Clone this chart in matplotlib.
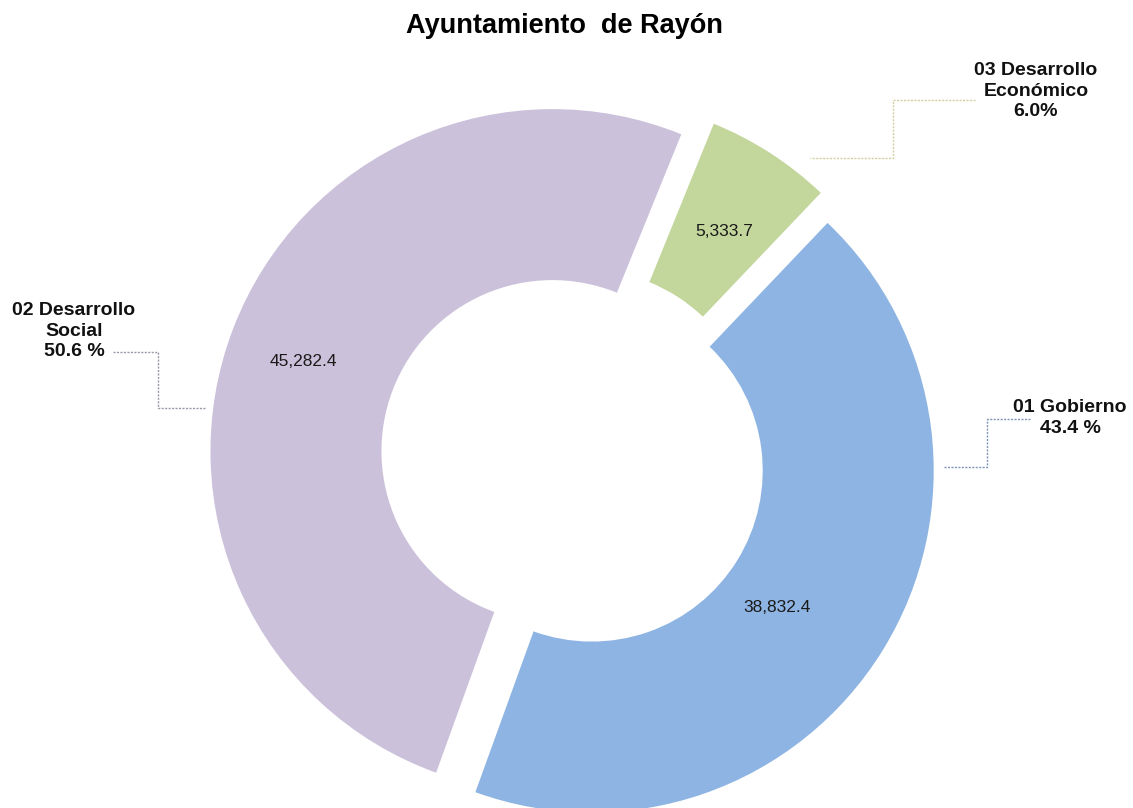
import matplotlib
matplotlib.use("Agg")
import matplotlib.pyplot as plt

# ---- data ----
categories = ["01 Gobierno", "02 Desarrollo\nSocial", "03 Desarrollo\nEconómico"]
values = [38832.4, 45282.4, 5333.7]
value_labels = ["38,832.4", "45,282.4", "5,333.7"]
pct_labels = ["43.4 %", "50.6 %", "6.0%"]
title = "Ayuntamiento  de Rayón"

# ---- style / layout ----
colors = ["#8EB4E3", "#CCC1DA", "#C3D69B"]
leader_colors = ["#7f95ba", "#9a97a6", "#d2cfa0"]
W, H = 1133, 808
CX, CY = 573, 459          # donut centre in pixels (from top)
R = 342                    # outer radius in pixels
EXPLODE = 22               # pixels
plt.rcParams['font.family'] = ['Liberation Sans', 'DejaVu Sans']

fig = plt.figure(figsize=(W / 100, H / 100), dpi=100)
ax = fig.add_axes([0, 0, 1, 1])

def py(y):
    return H - y

wedges, _ = ax.pie(values, colors=colors, startangle=46.4, counterclock=False,
                   radius=R, center=(CX, py(CY)), explode=[EXPLODE] * len(values),
                   wedgeprops=dict(width=R * 0.5, edgecolor='none'))
ax.set_xlim(0, W)
ax.set_ylim(0, H)
ax.set_aspect('equal')
ax.axis('off')

# value labels inside wedges (pixel positions)
value_pos = [(777, 607), (303, 362), (724, 232)]
for (x, y), txt in zip(value_pos, value_labels):
    ax.text(x, py(y), txt, ha='center', va='center', fontsize=12.5, color='#1a1a1a')

# category labels
cat_pos = [(1070, 418), (74, 331), (1036, 91)]
for (x, y), cat, pct in zip(cat_pos, categories, pct_labels):
    ax.text(x, py(y), f"{cat}\n{pct}", ha='center', va='center', fontsize=14,
            fontweight='bold', linespacing=1.3, color='#111111')

# leader lines (pixel paths)
leaders = [
    [(1030, 419), (987, 419), (987, 467), (943, 467)],
    [(113, 352), (158, 352), (158, 408), (205, 408)],
    [(975, 100), (893, 100), (893, 158), (810, 158)],
]
for path, c in zip(leaders, leader_colors):
    xs = [p[0] for p in path]
    ys = [py(p[1]) for p in path]
    ax.plot(xs, ys, color=c, lw=1.0, linestyle=(0, (1.5, 1)))

ax.text(564, py(26), title, ha='center', va='center', fontsize=19.5,
        fontweight='bold', color='#000000')

fig.savefig("out.png", dpi=100)
